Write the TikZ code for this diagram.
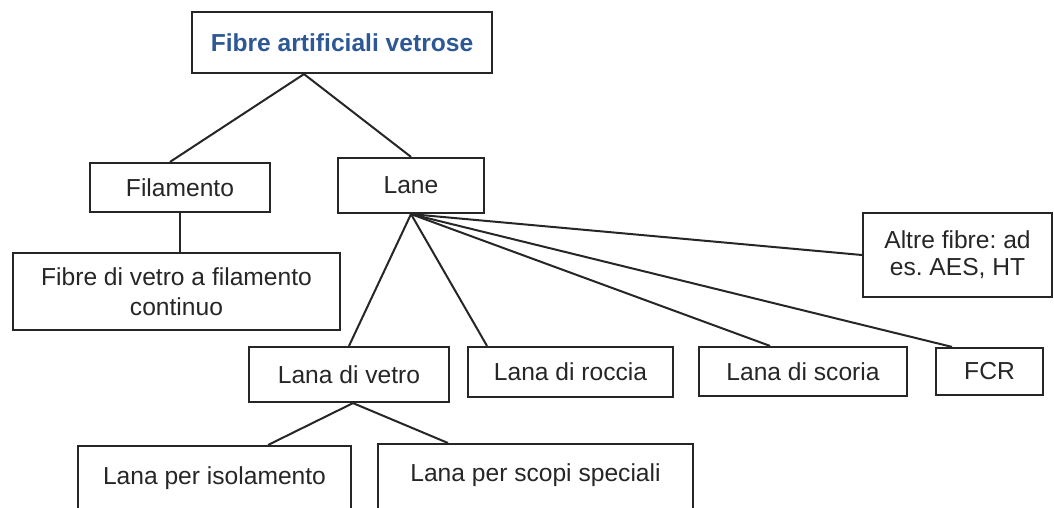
\documentclass[tikz,border=0pt]{standalone}
\usepackage{fontspec}
\setmainfont{Liberation Sans}
\frenchspacing
\definecolor{titleblue}{RGB}{45,88,150}
\tikzset{
  box/.style={draw=black!85,line width=1.1pt,inner sep=0pt,align=center,text=black!85,font=\fontsize{12.3}{15}\selectfont},
  openbox/.style={box,anchor=north,inner ysep=0pt,text depth=40pt},
  link/.style={draw=black!85,line width=1pt},
}
\begin{document}
\begin{tikzpicture}[x=0.5pt,y=-0.5pt]
  \useasboundingbox (0,0) rectangle (1054,508);
  \clip (0,0) rectangle (1054,508);
  \node[box,minimum width=150pt,minimum height=30.5pt,text=titleblue,font=\fontsize{12.3}{15}\selectfont\bfseries] (title) at (342,42.5) {Fibre artificiali vetrose};
  \node[box,minimum width=90pt,minimum height=24.5pt] (fil) at (180,187.5) {Filamento};
  \node[box,minimum width=73pt,minimum height=27.5pt] (lane) at (411,185.5) {Lane};
  \node[box,minimum width=163.5pt,minimum height=38.5pt] (fvc) at (176.5,291.5) {Fibre di vetro a filamento\\ continuo};
  \node[box,minimum width=94.5pt,minimum height=42pt,font=\fontsize{12.3}{13.5}\selectfont] (altre) at (957.5,255) {Altre fibre: ad\\ es. AES, HT};
  \node[box,minimum width=100pt,minimum height=27.5pt] (vetro) at (349,374.5) {Lana di vetro};
  \node[box,minimum width=102.5pt,minimum height=25pt] (roccia) at (570.5,372) {Lana di roccia};
  \node[box,minimum width=104pt,minimum height=24.5pt] (scoria) at (803,371.5) {Lana di scoria};
  \node[box,minimum width=53.5pt,minimum height=23.5pt] (fcr) at (989.5,371.5) {FCR};
  \node[openbox,minimum width=136.5pt,text height=19pt] (iso) at (214.5,445) {Lana per isolamento};
  \node[openbox,minimum width=157.5pt,text height=18.5pt] (spec) at (535.5,443) {Lana per scopi speciali};
  % connectors
  \draw[link] ([xshift=-19pt]title.south) -- ([xshift=-5pt]fil.north);
  \draw[link] ([xshift=-19pt]title.south) -- (lane.north);
  \draw[link] (fil.south) -- (fil.south |- fvc.north);
  \draw[link] (lane.south) -- (vetro.north);
  \draw[link] (lane.south) -- ([xshift=-41.75pt]roccia.north);
  \draw[link] (lane.south) -- ([xshift=-16.5pt]scoria.north);
  \draw[link] (lane.south) -- ([xshift=-18.75pt]fcr.north);
  \draw[link] (lane.south) -- (altre.west);
  \draw[link] ([xshift=2pt]vetro.south) -- ([xshift=26.75pt]iso.north);
  \draw[link] ([xshift=2pt]vetro.south) -- ([xshift=-43.75pt]spec.north);
\end{tikzpicture}
\end{document}
